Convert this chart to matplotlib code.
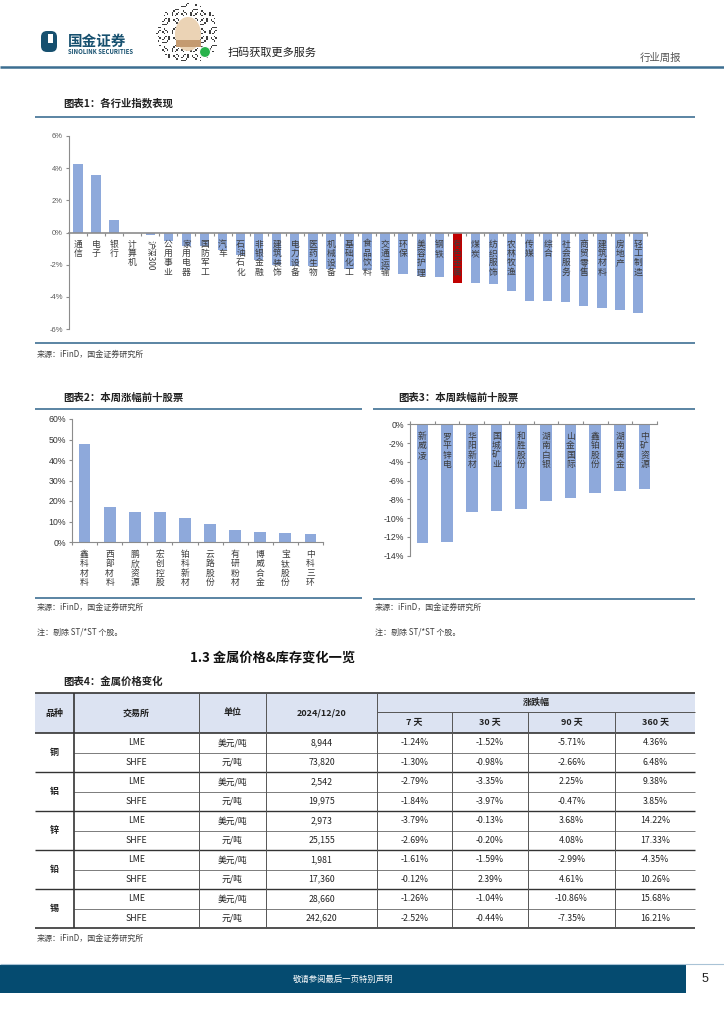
import numpy as np
import matplotlib
matplotlib.use("Agg")
import matplotlib.pyplot as plt
from matplotlib.patches import Rectangle, Ellipse, Circle, FancyBboxPatch

plt.rcParams['font.family'] = ['Noto Sans CJK SC', 'DejaVu Sans']

# ---------------- data ----------------
ind_names = ['通信', '电子', '银行', '计算机', '沪深300', '公用事业', '家用电器', '国防军工', '汽车',
             '石油石化', '非银金融', '建筑装饰', '电力设备', '医药生物', '机械设备', '基础化工',
             '食品饮料', '交通运输', '环保', '美容护理', '钢铁', '有色金属', '煤炭', '纺织服饰',
             '农林牧渔', '传媒', '综合', '社会服务', '商贸零售', '建筑材料', '房地产', '轻工制造']
ind_values = [4.29, 3.57, 0.76, -0.02, -0.16, -0.51, -0.86, -0.87, -1.06, -1.41, -1.73, -2.00,
              -2.10, -2.11, -2.29, -2.30, -2.31, -2.35, -2.61, -2.73, -2.78, -3.12, -3.13, -3.18,
              -3.61, -4.24, -4.29, -4.35, -4.57, -4.67, -4.84, -5.02]
ind_highlight = '有色金属'
ind_ticks = [6, 4, 2, 0, -2, -4, -6]

up_names = ['鑫科材料', '西部材料', '鹏欣资源', '宏创控股', '铂科新材', '云路股份', '有研粉材',
            '博威合金', '宝钛股份', '中科三环']
up_values = [47.8, 17.0, 14.4, 14.4, 11.8, 8.75, 6.0, 4.7, 4.2, 3.7]
up_ticks = [0, 10, 20, 30, 40, 50, 60]

down_names = ['新威凌', '罗平锌电', '华阳新材', '国城矿业', '和胜股份', '湖南白银', '山金国际',
              '鑫铂股份', '湖南黄金', '中矿资源']
down_values = [-12.69, -12.58, -9.38, -9.28, -9.06, -8.20, -7.82, -7.32, -7.10, -6.93]
down_ticks = [0, -2, -4, -6, -8, -10, -12, -14]

metals = ['铜', '铝', '锌', '铅', '锡']
exchanges = ['LME', 'SHFE'] * 5
units = ['美元/吨', '元/吨'] * 5
prices = ['8,944', '73,820', '2,542', '19,975', '2,973', '25,155', '1,981', '17,360', '28,660', '242,620']
chg_7 = ['-1.24%', '-1.30%', '-2.79%', '-1.84%', '-3.79%', '-2.69%', '-1.61%', '-0.12%', '-1.26%', '-2.52%']
chg_30 = ['-1.52%', '-0.98%', '-3.35%', '-3.97%', '-0.13%', '-0.20%', '-1.59%', '2.39%', '-1.04%', '-0.44%']
chg_90 = ['-5.71%', '-2.66%', '2.25%', '-0.47%', '3.68%', '4.08%', '-2.99%', '4.61%', '-10.86%', '-7.35%']
chg_360 = ['4.36%', '6.48%', '9.38%', '3.85%', '14.22%', '17.33%', '-4.35%', '10.26%', '15.68%', '16.21%']
table_header = ['品种', '交易所', '单位', '2024/12/20']
chg_header = ['7 天', '30 天', '90 天', '360 天']

# ---------------- styles ----------------
W, H = 724, 1024
BAR = '#8EA9DB'
RED = '#C00000'
LINE = '#3E7094'
AX = '#8C8C8C'
TXT = '#404040'
LBL = '#3C3C3C'

fig = plt.figure(figsize=(W / 100, H / 100), dpi=100)
fig.patch.set_facecolor('white')

ov = fig.add_axes([0, 0, 1, 1])
ov.set_xlim(0, W)
ov.set_ylim(H, 0)
ov.axis('off')
ov.set_zorder(0)


def px_axes(x0, y0, x1, y1):
    a = fig.add_axes([x0 / W, 1 - y1 / H, (x1 - x0) / W, (y1 - y0) / H])
    a.set_zorder(2)
    a.patch.set_alpha(0)
    return a


def hline(y, x0, x1, color=LINE, lw=1.2):
    ov.plot([x0, x1], [y, y], color=color, lw=lw, solid_capstyle='butt')


def vline(x, y0, y1, color='#404040', lw=0.8):
    ov.plot([x, x], [y0, y1], color=color, lw=lw, solid_capstyle='butt')


def T(x, y, s, **kw):
    kw.setdefault('va', 'center')
    kw.setdefault('color', TXT)
    ov.text(x, y, s, **kw)


# ---------------- header ----------------
ov.add_patch(FancyBboxPatch((41, 31), 16, 21, boxstyle='round,pad=0,rounding_size=6',
                            fc='#16506F', ec='none'))
ov.add_patch(Rectangle((48, 34), 5, 9, fc='white', ec='none'))
T(68, 41, '国金证券', fontsize=10.5, fontweight='bold', color='#16506F')
T(68, 51.5, 'SINOLINK SECURITIES', fontsize=4.3, fontweight='bold', color='#16506F')

# stylised mini-program code (decorative)
n = 41
qr = np.ones((n, n, 4))
cx = (n - 1) / 2
for i in range(n):
    for j in range(n):
        r = np.hypot(i - cx, j - cx)
        if 8 < r <= cx and ((i * 5 + j * 3 + (i * j) // 3) % 4) == 0:
            qr[i, j, :3] = 0.25
ov.imshow(qr, extent=(156, 220, 64, 3), interpolation='nearest', zorder=1)
ov.add_patch(Ellipse((188, 34), 26, 34, fc='#EBD3B5', ec='none', zorder=2))
ov.add_patch(Rectangle((176, 40), 25, 7, fc='#C49A70', ec='none', zorder=3))
ov.add_patch(Circle((205, 52), 5.5, fc='#27B24A', ec='white', lw=0.8, zorder=3))
T(228, 53, '扫码获取更多服务', fontsize=8, color='#222222')
T(640, 58, '行业周报', fontsize=7.5, color='#555555')
hline(67, 0, W, color='#3C6E91', lw=1.8)

# ---------------- chart 1 ----------------
T(63, 103, '图表1：各行业指数表现', fontsize=7.5, fontweight='bold', color='#222222')
hline(117, 35, 695)
ax1 = px_axes(69, 136, 647, 329)
x1 = np.arange(len(ind_names))
cols1 = [RED if nm == ind_highlight else BAR for nm in ind_names]
ax1.bar(x1, ind_values, width=0.52, color=cols1, zorder=2)
ax1.set_xlim(-0.5, len(ind_names) - 0.5)
ax1.set_ylim(-6, 6)
ax1.set_yticks(ind_ticks)
ax1.set_yticklabels([f'{v}%' for v in ind_ticks], fontsize=5.5, color='#595959',
                    family=['Liberation Sans', 'DejaVu Sans'])
ax1.tick_params(axis='y', length=2.5, color=AX, width=0.8, pad=2)
for s in ['top', 'right']:
    ax1.spines[s].set_visible(False)
ax1.spines['left'].set_color(AX)
ax1.spines['bottom'].set_position(('data', 0))
ax1.spines['bottom'].set_color(AX)
ax1.spines['bottom'].set_linewidth(1.2)
ax1.set_xticks(np.arange(len(ind_names) + 1) - 0.5)
ax1.set_xticklabels([])
ax1.tick_params(axis='x', length=2, color=AX, direction='out')
for i, nm in enumerate(ind_names):
    if any(c.isdigit() for c in nm):
        ax1.text(i, -0.45, nm, rotation=-90, ha='center', va='top', fontsize=6.0,
                 color=LBL, zorder=3)
    else:
        ax1.text(i, -0.45, '\n'.join(nm), ha='center', va='top', fontsize=6.3,
                 linespacing=1.05, color=LBL, zorder=3)
hline(343, 35, 695)
T(37, 354, '来源：iFinD，国金证券研究所', fontsize=5.8)

# ---------------- chart 2 ----------------
T(63, 398, '图表2：本周涨幅前十股票', fontsize=7.5, fontweight='bold', color='#222222')
hline(409, 35, 362)
ax2 = px_axes(72, 419, 323, 542)
x2 = np.arange(len(up_names))
ax2.bar(x2, up_values, width=0.47, color=BAR, zorder=2)
ax2.set_xlim(-0.5, len(up_names) - 0.5)
ax2.set_ylim(0, 60)
ax2.set_yticks(up_ticks)
ax2.set_yticklabels([f'{v}%' for v in up_ticks], fontsize=6.3, color='#333333',
                    family=['Liberation Sans', 'DejaVu Sans'])
ax2.tick_params(axis='y', length=2.5, color=AX, pad=2)
for s in ['top', 'right']:
    ax2.spines[s].set_visible(False)
for s in ['left', 'bottom']:
    ax2.spines[s].set_color(AX)
ax2.set_xticks(np.arange(len(up_names) + 1) - 0.5)
ax2.set_xticklabels([])
ax2.tick_params(axis='x', length=2, color=AX)
for i, nm in enumerate(up_names):
    ax2.text(i, -3.9, '\n'.join(nm), ha='center', va='top', fontsize=6.3,
             linespacing=1.05, color=LBL, clip_on=False)
hline(598, 35, 362)
T(37, 607, '来源：iFinD，国金证券研究所', fontsize=5.8)
T(37, 632, '注：剔除 ST/*ST 个股。', fontsize=5.8)

# ---------------- chart 3 ----------------
T(398, 398, '图表3：本周跌幅前十股票', fontsize=7.5, fontweight='bold', color='#222222')
hline(409, 373, 695)
ax3 = px_axes(410, 424.3, 657, 555.7)
x3 = np.arange(len(down_names))
ax3.bar(x3, down_values, width=0.47, color=BAR, zorder=2)
ax3.set_xlim(-0.5, len(down_names) - 0.5)
ax3.set_ylim(-14, 0)
ax3.set_yticks(down_ticks)
ax3.set_yticklabels([f'{v}%' for v in down_ticks], fontsize=6.3, color='#333333',
                    family=['Liberation Sans', 'DejaVu Sans'])
ax3.tick_params(axis='y', length=2.5, color=AX, pad=2)
for s in ['bottom', 'right']:
    ax3.spines[s].set_visible(False)
for s in ['left', 'top']:
    ax3.spines[s].set_color(AX)
ax3.xaxis.set_ticks_position('top')
ax3.set_xticks(np.arange(len(down_names) + 1) - 0.5)
ax3.set_xticklabels([])
ax3.tick_params(axis='x', length=2, color=AX)
for i, nm in enumerate(down_names):
    ax3.text(i, -0.82, '\n'.join(nm), ha='center', va='top', fontsize=6.3,
             linespacing=1.05, color=LBL, zorder=3)
hline(599, 373, 695)
T(375, 607, '来源：iFinD，国金证券研究所', fontsize=5.8)
T(375, 632, '注：剔除 ST/*ST 个股。', fontsize=5.8)

# ---------------- section + table ----------------
T(190, 658, '1.3 金属价格&库存变化一览', fontsize=9.5, fontweight='bold', color='#111111')
T(63, 682, '图表4：金属价格变化', fontsize=7.5, fontweight='bold', color='#222222')

colx = [35, 74, 199, 266, 377, 452, 528, 615, 695]
y_top, y_mid, y_hdr = 693, 712, 733
row_h = 19.5
n_rows = len(exchanges)
y_bot = y_hdr + n_rows * row_h
ov.add_patch(Rectangle((colx[0], y_top), colx[-1] - colx[0], y_hdr - y_top,
                       fc='#DCE3F2', ec='none', zorder=0))
hdr_kw = dict(fontsize=6.5, fontweight='bold', ha='center', color='#222222')
for k, h in enumerate(table_header):
    T((colx[k] + colx[k + 1]) / 2, (y_top + y_hdr) / 2, h, **hdr_kw)
T((colx[4] + colx[-1]) / 2, (y_top + y_mid) / 2, '涨跌幅', **hdr_kw)
for k, h in enumerate(chg_header):
    T((colx[4 + k] + colx[5 + k]) / 2, (y_mid + y_hdr) / 2, h, **hdr_kw)

cell_kw = dict(fontsize=6.3, ha='center', color='#222222')
cols_data = [exchanges, units, prices, chg_7, chg_30, chg_90, chg_360]
for r in range(n_rows):
    yc = y_hdr + (r + 0.5) * row_h
    for c, col in enumerate(cols_data):
        T((colx[c + 1] + colx[c + 2]) / 2, yc, col[r], **cell_kw)
for g, m in enumerate(metals):
    yc = y_hdr + (2 * g + 1) * row_h
    T((colx[0] + colx[1]) / 2, yc, m, fontsize=6.5, fontweight='bold', ha='center', color='#222222')

hline(y_top, colx[0], colx[-1], color='#333333', lw=1.2)
hline(y_mid, colx[4], colx[-1], color='#555555', lw=0.7)
hline(y_hdr, colx[0], colx[-1], color='#333333', lw=1.2)
for r in range(1, n_rows):
    yy = y_hdr + r * row_h
    if r % 2 == 0:
        hline(yy, colx[0], colx[-1], color='#333333', lw=1.0)
    else:
        hline(yy, colx[1], colx[-1], color='#666666', lw=0.6)
hline(y_bot, colx[0], colx[-1], color='#333333', lw=1.2)
vline(colx[1], y_top, y_bot, color='#333333', lw=1.2)
for x in colx[2:5]:
    vline(x, y_top, y_bot, color='#555555', lw=0.7)
for x in colx[5:8]:
    vline(x, y_mid, y_bot, color='#555555', lw=0.7)
T(37, 938, '来源：iFinD，国金证券研究所', fontsize=5.8)

# ---------------- footer ----------------
hline(964, 0, W, color='#A9C3D6', lw=0.8)
ov.add_patch(Rectangle((0, 965), 686, 28, fc='#054B70', ec='none'))
T(343, 979, '敬请参阅最后一页特别声明', fontsize=6, ha='center', color='white')
T(705, 979, '5', fontsize=9, ha='center', color='#222222', family=['Liberation Sans', 'DejaVu Sans'])

fig.savefig('out.png', dpi=100, facecolor='white')
